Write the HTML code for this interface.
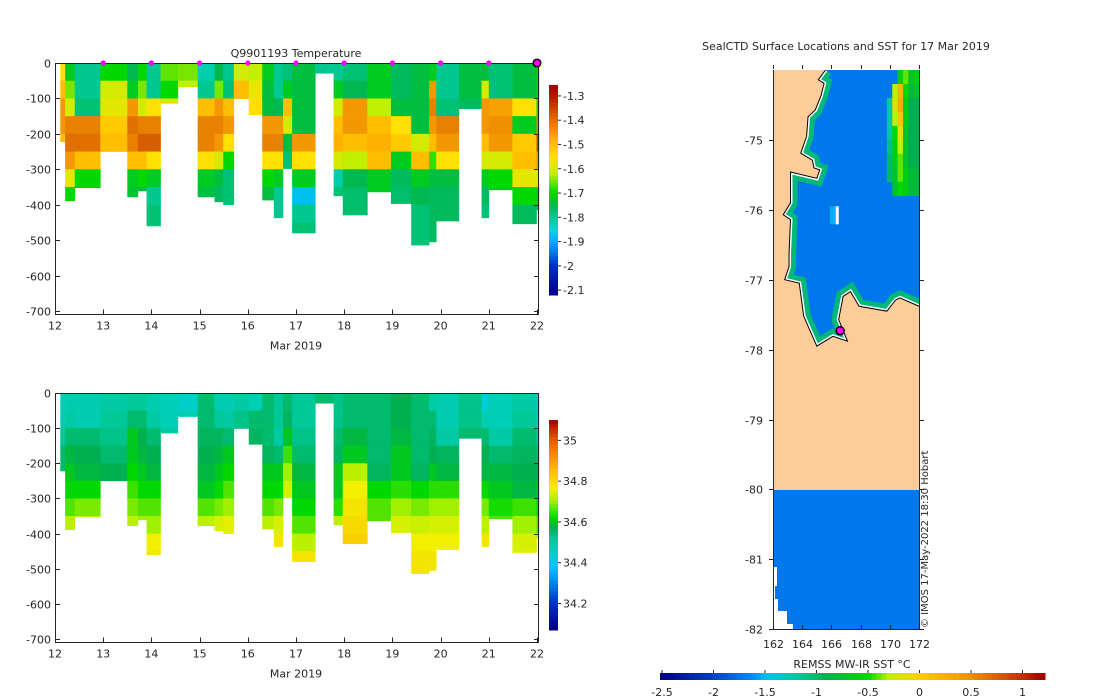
<!DOCTYPE html>
<html><head><meta charset="utf-8">
<style>
html,body{margin:0;padding:0;background:#fff;}
svg{display:block;font-family:"DejaVu Sans","Liberation Sans",sans-serif;}
text{fill:#262626;font-size:11px;}
</style></head>
<body>
<svg id="fig" width="1100" height="700" viewBox="0 0 1100 700" xmlns="http://www.w3.org/2000/svg">
<g id="topPanel"></g>
<g id="botPanel"></g>
<g id="mapPanel"></g>
</svg>
<script>
const NS="http://www.w3.org/2000/svg";
// ---- data ----
const colStart=[12.11,12.21,12.41,12.94,13.5,13.72,13.9,14.19,14.55,14.96,15.31,15.49,15.71,16.02,16.3,16.54,16.73,16.92,17.4,17.78,17.97,18.48,18.97,19.39,19.76,19.91,20.38,20.85,21.0,21.49,21.99];
const colEnd=[12.21,12.41,12.94,13.5,13.72,13.9,14.19,14.55,14.96,15.31,15.49,15.71,16.02,16.3,16.54,16.73,16.92,17.4,17.78,17.97,18.48,18.97,19.39,19.76,19.91,20.38,20.85,21.0,21.49,21.99,22.04];
const colDepth=[222,389,352,250,378,361,460,114,67,378,392,400,101,146,387,437,298,480,29,375,429,364,397,514,505,446,129,437,358,454,415];
const tempBands=[
[-1.55,-1.5,-1.45,-1.45,-1.5],
[-1.72,-1.65,-1.6,-1.42,-1.4,-1.45,-1.58,-1.7],
[-1.8,-1.8,-1.78,-1.42,-1.4,-1.5,-1.7,-1.72],
[-1.7,-1.6,-1.58,-1.52,-1.5],
[-1.75,-1.72,-1.45,-1.4,-1.42,-1.5,-1.72,-1.73],
[-1.7,-1.65,-1.6,-1.42,-1.38,-1.5,-1.7,-1.74],
[-1.8,-1.8,-1.55,-1.42,-1.38,-1.55,-1.72,-1.8,-1.78,-1.78],
[-1.66,-1.7,-1.6],
[-1.65,-1.62],
[-1.82,-1.8,-1.5,-1.42,-1.42,-1.55,-1.72,-1.74],
[-1.75,-1.65,-1.45,-1.42,-1.45,-1.6,-1.74,-1.76],
[-1.8,-1.78,-1.5,-1.45,-1.55,-1.7,-1.78,-1.78],
[-1.6,-1.5,-1.5],
[-1.62,-1.58,-1.55],
[-1.72,-1.74,-1.74,-1.45,-1.42,-1.55,-1.7,-1.74],
[-1.8,-1.8,-1.75,-1.45,-1.42,-1.55,-1.72,-1.8,-1.8],
[-1.78,-1.72,-1.5,-1.6,-1.74,-1.78],
[-1.74,-1.74,-1.74,-1.74,-1.45,-1.55,-1.72,-1.88,-1.8,-1.78],
[-1.8],
[-1.8,-1.72,-1.6,-1.5,-1.48,-1.6,-1.82,-1.78],
[-1.78,-1.75,-1.45,-1.45,-1.5,-1.62,-1.75,-1.77,-1.77],
[-1.72,-1.72,-1.62,-1.5,-1.48,-1.5,-1.72,-1.72],
[-1.76,-1.76,-1.74,-1.55,-1.52,-1.72,-1.76,-1.77],
[-1.74,-1.74,-1.74,-1.74,-1.6,-1.5,-1.72,-1.75,-1.78,-1.78,-1.78],
[-1.72,-1.45,-1.42,-1.45,-1.5,-1.68,-1.74,-1.76,-1.76,-1.76,-1.76],
[-1.8,-1.8,-1.78,-1.42,-1.45,-1.55,-1.74,-1.76,-1.76],
[-1.74,-1.74,-1.76],
[-1.74,-1.6,-1.45,-1.45,-1.5,-1.6,-1.72,-1.76,-1.78],
[-1.78,-1.78,-1.46,-1.44,-1.45,-1.6,-1.7,-1.72],
[-1.74,-1.74,-1.55,-1.72,-1.52,-1.5,-1.58,-1.7,-1.76,-1.76],
[-1.7,-1.7,-1.7,-1.42,-1.35,-1.45,-1.6,-1.72,-1.76]];
const salBands=[
[34.47,34.48,34.52,34.55,34.55],
[34.48,34.5,34.55,34.58,34.6,34.62,34.66,34.72],
[34.48,34.48,34.55,34.57,34.58,34.62,34.68,34.72],
[34.5,34.52,34.53,34.55,34.57],
[34.52,34.55,34.6,34.6,34.62,34.65,34.68,34.72],
[34.52,34.55,34.57,34.58,34.6,34.62,34.66,34.7],
[34.48,34.5,34.55,34.57,34.58,34.62,34.66,34.7,34.76,34.78],
[34.47,34.47,34.5],
[34.44,34.47],
[34.55,34.55,34.56,34.57,34.58,34.6,34.66,34.72],
[34.48,34.52,34.56,34.58,34.6,34.62,34.68,34.74],
[34.48,34.5,34.55,34.6,34.62,34.66,34.7,34.75],
[34.5,34.53,34.55],
[34.47,34.55,34.56],
[34.55,34.55,34.55,34.56,34.6,34.62,34.66,34.72],
[34.52,34.52,34.5,34.55,34.6,34.62,34.68,34.74,34.78],
[34.55,34.56,34.6,34.65,34.7,34.74],
[34.52,34.52,34.53,34.55,34.58,34.6,34.62,34.66,34.72,34.78],
[34.55],
[34.53,34.53,34.55,34.56,34.6,34.6,34.64,34.72],
[34.55,34.55,34.58,34.6,34.72,34.76,34.78,34.8,34.82],
[34.55,34.55,34.55,34.55,34.56,34.62,34.66,34.66],
[34.57,34.57,34.58,34.6,34.6,34.64,34.7,34.74],
[34.55,34.55,34.55,34.55,34.56,34.62,34.68,34.73,34.76,34.78,34.78],
[34.5,34.55,34.56,34.57,34.6,34.64,34.7,34.74,34.76,34.78,34.78],
[34.48,34.48,34.5,34.56,34.58,34.64,34.7,34.74,34.76],
[34.53,34.53,34.55],
[34.42,34.48,34.55,34.57,34.58,34.62,34.68,34.72,34.78],
[34.47,34.47,34.5,34.55,34.58,34.6,34.63,34.66],
[34.5,34.52,34.55,34.56,34.57,34.58,34.65,34.7,34.74,34.75],
[34.45,34.47,34.5,34.55,34.57,34.6,34.62,34.66,34.74]];
const bandSize=50;
const markerDays=[13,14,15,16,17,18,19,20,21];
const lastMarkerDay=22;
const xTicks=[12,13,14,15,16,17,18,19,20,21,22];
const yTicks=[0,-100,-200,-300,-400,-500,-600,-700];
const tempCbTicks=[-1.3,-1.4,-1.5,-1.6,-1.7,-1.8,-1.9,-2,-2.1];
const salCbTicks=[35,34.8,34.6,34.4,34.2];
const lonTicks=[162,164,166,168,170,172];
const latTicks=[-75,-76,-77,-78,-79,-80,-81,-82];
const sstTicks=[-2.5,-2,-1.5,-1,-0.5,0,0.5,1];
const sstLonStart=[169.8,170.17,170.53,170.9,171.27,171.63];
const sstLatTop=[-74,-74.2,-74.4,-74.6,-74.8,-75,-75.2,-75.4,-75.6];
const sstGrid=[
[null,null,-0.6,-0.4,-0.7,-0.6],
[null,-0.3,0.2,-0.5,-0.8,-0.7],
[-1.2,-0.1,0.3,-0.6,-0.9,-0.9],
[-1.2,-0.3,0.1,-0.6,-0.9,-0.9],
[-1.2,-0.5,-0.1,-0.7,-0.9,-0.9],
[-1.1,-0.6,-0.3,-0.7,-0.9,-0.9],
[-1.0,-0.6,-0.4,-0.7,-0.9,-0.9],
[-1.0,-0.7,-0.4,-0.6,-0.8,-0.8],
[null,-0.7,-0.5,-0.6,-0.8,-0.8]];
const oceanSST=-1.72;
const ctdLon=166.6, ctdLat=-77.73;
const coastLon=[165.6,165.1,165.5,165.3,164.9,164.4,164.3,163.9,164.7,164.8,165.2,165.0,163.2,163.2,162.7,163.2,163.1,163.1,162.8,163.8,164.1,165.0,166.1,167.1,166.5,166.8,167.3,167.9,169.8,170.4,170.7,172.0];
const coastLat=[-74.0,-74.14,-74.19,-74.36,-74.57,-74.67,-74.95,-75.19,-75.29,-75.4,-75.43,-75.55,-75.46,-75.9,-76.07,-76.14,-76.62,-76.81,-77.0,-77.05,-77.52,-77.95,-77.81,-77.88,-77.57,-77.24,-77.17,-77.38,-77.45,-77.29,-77.26,-77.38];

// ---- helpers ----
function el(tag,attrs,parent){const e=document.createElementNS(NS,tag);for(const k in attrs)e.setAttribute(k,attrs[k]);parent.appendChild(e);return e;}
function txt(s,x,y,anchor,parent,size){const t=el('text',{x:x,y:y,'text-anchor':anchor||'middle'},parent);if(size)t.style.fontSize=size+'px';t.textContent=s;return t;}
function hex(c){return [parseInt(c.substr(1,2),16),parseInt(c.substr(3,2),16),parseInt(c.substr(5,2),16)];}
function cmap(stops,v){if(v<=stops[0][0])return stops[0][1];for(let i=1;i<stops.length;i++){if(v<=stops[i][0]){const a=stops[i-1],b=stops[i];const f=(v-a[0])/(b[0]-a[0]);const ca=hex(a[1]),cb=hex(b[1]);return 'rgb('+ca.map((x,j)=>Math.round(x+(cb[j]-x)*f)).join(',')+')';}}return stops[stops.length-1][1];}
const tStops=[[-2.12,'#000080'],[-2.0,'#0030c0'],[-1.9,'#00b0ff'],[-1.85,'#00d8d8'],[-1.8,'#00c890'],[-1.75,'#00b850'],[-1.7,'#00d800'],[-1.62,'#c0f000'],[-1.55,'#ffe000'],[-1.48,'#ffb000'],[-1.4,'#e07000'],[-1.3,'#b01800'],[-1.25,'#a00000']];
const sStops=[[34.07,'#000080'],[34.2,'#0030c0'],[34.38,'#00c8ff'],[34.45,'#00d0c0'],[34.52,'#00c898'],[34.57,'#00b050'],[34.62,'#00d800'],[34.7,'#a0f000'],[34.76,'#f0f000'],[34.85,'#ffc000'],[35.0,'#e06000'],[35.1,'#a00000']];
const mStops=[[-2.52,'#000080'],[-2.0,'#0040c0'],[-1.6,'#0090ff'],[-1.5,'#00c0f0'],[-1.2,'#00c8a0'],[-0.9,'#00b050'],[-0.5,'#00d800'],[-0.3,'#c0f000'],[0,'#ffd000'],[0.5,'#f09000'],[1.0,'#c03000'],[1.2,'#a00000']];

function profilePanel(g,bands,stops,y0,y700,yBot,cb){
  const xS=d=>55+(d-12)*48.2;
  const yS=dep=>y0+dep*(y700-y0)/700;
  for(let i=0;i<colStart.length;i++){
    const cg=el('g',{},g);
    
    
    const b=bands[i];
    for(let k=0;k<b.length;k++){
      const d0=Math.max(k*bandSize,2), d1=Math.min((k+1)*bandSize,colDepth[i]);
      if(d1<=d0)continue;
      const r=el('rect',{x:xS(colStart[i]),y:yS(d0),width:xS(colEnd[i])-xS(colStart[i])+0.3,height:yS(d1)-yS(d0)+0.3,fill:cmap(stops,b[k])},cg);
      
      
    }
  }
  const ax=el('g',{stroke:'#262626','stroke-width':1,fill:'none'},g);
  
  
  el('path',{d:`M55.5 ${y0} V${yBot} H538.5 V${y0}`},ax);
  el('line',{x1:55.5,y1:y0+0.5,x2:538.5,y2:y0+0.5},ax);
  xTicks.forEach(t=>{const x=Math.round(xS(t))+0.5;el('line',{x1:x,y1:yBot,x2:x,y2:yBot-5},ax);});
  const xl=el('g',{},g);
  xTicks.forEach(t=>txt(String(t),xS(t),yBot+15,'middle',xl));
  txt('Mar 2019',296,yBot+35,'middle',g);
  const yl=el('g',{},g);
  yTicks.forEach(t=>{const y=Math.round(yS(-t))+0.5;el('line',{x1:55.5,y1:y,x2:60,y2:y},ax);el('line',{x1:538.5,y1:y,x2:534,y2:y},ax);txt(String(t),51,y+4,'end',yl);});
  const cbg=el('g',{},g);
  const n=60;for(let i=0;i<n;i++){const v=cb.vmax-(cb.vmax-cb.vmin)*(i+0.5)/n;el('rect',{x:549,y:cb.top+(cb.bot-cb.top)*i/n,width:9,height:(cb.bot-cb.top)/n+0.5,fill:cmap(stops,v)},cbg);}
  cb.ticks.forEach(t=>{const y=cb.top+(cb.vmax-t)/(cb.vmax-cb.vmin)*(cb.bot-cb.top);el('line',{x1:558,y1:y,x2:561,y2:y,stroke:'#262626'},cbg);txt(String(t),563,y+4,'start',cbg);});
}
const topG=document.getElementById('topPanel');
profilePanel(topG,tempBands,tStops,63,311,314.5,{top:85,bot:295,vmax:-1.255,vmin:-2.12,ticks:tempCbTicks});
txt('Q9901193  Temperature',296,57,'middle',topG);
markerDays.forEach(d=>{const c=el('circle',{cx:55+(d-12)*48.2,cy:63,r:2.6,fill:'#ff00ff'},topG);});
const lm=el('circle',{cx:55+(lastMarkerDay-12)*48.2,cy:63,r:3.8,fill:'#ff00ff',stroke:'#000','stroke-width':1.5},topG);


const botG=document.getElementById('botPanel');
profilePanel(botG,salBands,sStops,393,639,642.5,{top:420,bot:630,vmax:35.1,vmin:34.07,ticks:salCbTicks});

// ---- map ----
const mapG=document.getElementById('mapPanel');
const mx=lon=>773+(lon-162)*14.6;
const my=lat=>70+(-74-lat)*69.9;
const land=el('rect',{x:773,y:70,width:146,height:420,fill:'#fdcc99'},mapG);

let pts=coastLon.map((l,i)=>mx(l)+','+my(coastLat[i]));
const oceanPts=pts.join(' ')+' '+mx(172)+','+my(-74);
const defs=el('defs',{},mapG);
const cp=el('clipPath',{id:'oc'},defs);el('polygon',{points:oceanPts},cp);
const og=el('g',{'clip-path':'url(#oc)'},mapG);

el('polygon',{points:oceanPts,fill:cmap(mStops,oceanSST)},og);
el('polyline',{points:pts.join(' '),fill:'none',stroke:'#00b878','stroke-width':14},og);
el('polyline',{points:pts.join(' '),fill:'none',stroke:'#fff','stroke-width':4},og);
sstGrid.forEach((row,r)=>row.forEach((v,c)=>{if(v===null)return;const x0=mx(sstLonStart[c]);const x1=c+1<sstLonStart.length?mx(sstLonStart[c+1]):mx(172);const rr=el('rect',{x:x0,y:my(sstLatTop[r]),width:x1-x0+0.3,height:14.3,fill:cmap(mStops,v)},og);}));
el('rect',{x:mx(165.9),y:my(-75.95),width:8,height:18,fill:'#00b0f0'},og);
el('rect',{x:mx(166.3),y:my(-75.95),width:3,height:18,fill:'#fff'},og);
el('polyline',{points:pts.join(' '),fill:'none',stroke:'#000','stroke-width':1},mapG);
const south=el('rect',{x:773,y:490,width:146,height:139.5,fill:cmap(mStops,oceanSST)},mapG);

el('polygon',{points:'773,567 777,567 777,586 775,586 775,599 778,599 778,611 787,611 787,624 793,624 793,630 773,630',fill:'#fff'},mapG);
const ctd=el('circle',{cx:mx(ctdLon),cy:my(ctdLat),r:4,fill:'#ff00ff',stroke:'#000','stroke-width':1.5},mapG);

const max=el('g',{stroke:'#262626',fill:'none'},mapG);
el('path',{d:'M773.5 70 V629.5 H919.5 V70'},max);
lonTicks.forEach(t=>{const x=Math.round(mx(t))+0.5;el('line',{x1:x,y1:629.5,x2:x,y2:625},max);el('line',{x1:x,y1:65,x2:x,y2:69},max);txt(String(t),x,648,'middle',mapG);});
latTicks.forEach(t=>{const y=Math.round(my(t))+0.5;el('line',{x1:773.5,y1:y,x2:769,y2:y},max);el('line',{x1:919.5,y1:y,x2:924,y2:y},max);txt(String(t),763,y+4,'end',mapG);});
txt('SealCTD Surface Locations and SST for 17 Mar 2019',846,50,'middle',mapG);
const cr=txt('© IMOS 17-May-2022 18:30 Hobart',0,0,'start',mapG,10);
cr.setAttribute('transform','translate(928,628) rotate(-90)');

const scb=el('g',{},mapG);
const sx=v=>662+(v+2.5)*103;
const N=80;for(let i=0;i<N;i++){const v=-2.52+(1.22+2.52)*(i+0.5)/N;el('rect',{x:660+385*i/N,y:673,width:385/N+0.5,height:7,fill:cmap(mStops,v)},scb);}
sstTicks.forEach(t=>{const x=sx(t);el('line',{x1:x,y1:670,x2:x,y2:673,stroke:'#262626'},scb);txt(String(t),x,696,'middle',scb);});
txt('REMSS MW-IR SST °C',852,668,'middle',scb);
</script>
</body></html>
